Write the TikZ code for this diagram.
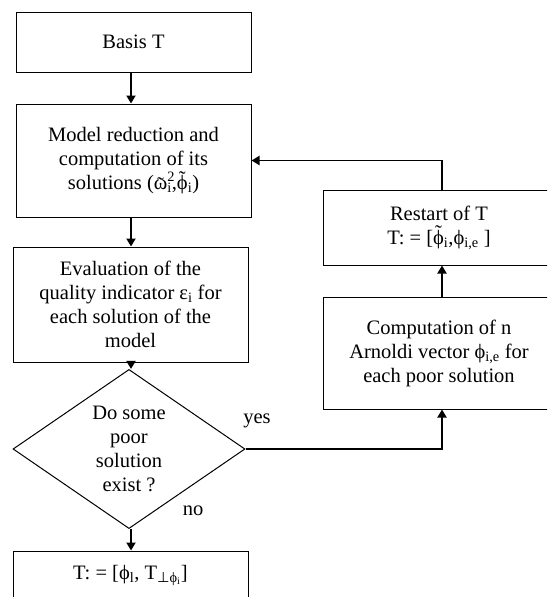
\documentclass[tikz,border=0pt]{standalone}
\usepackage{fontspec}
\setmainfont{Liberation Serif}
\newfontfamily\djv{DejaVu Sans}
\usetikzlibrary{arrows.meta,shapes.geometric}
\newcommand{\supsubx}[2]{\makebox[0pt][l]{\textsuperscript{#1}}\textsubscript{#2}}
\newcommand{\tld}[2][0pt]{{\ooalign{#2\cr\hidewidth\raisebox{#1}{˜}\hidewidth\cr}}}
\tikzset{
  box/.style={draw=black, line width=1pt, rectangle, align=center, inner sep=2pt,
    font=\fontsize{20.5}{24}\selectfont},
  dia/.style={draw=black, line width=1pt, diamond, align=center, inner sep=0pt,
    font=\fontsize{20.5}{24}\selectfont},
  flow/.style={line width=1.8pt, -{Triangle[length=8pt,width=9pt]}},
  lbl/.style={font=\fontsize{20.5}{24}\selectfont, inner sep=0pt},
}
\begin{document}
\begin{tikzpicture}[x=1pt,y=-1pt]
\useasboundingbox (0,0) rectangle (547,597);
\clip (0,0) rectangle (547,597);
\node[box, minimum width=235pt, minimum height=60pt] (basis) at (133.5,42) {Basis T};
\node[box, minimum width=235pt, minimum height=113pt] (model) at (133.5,160.5)
  {Model reduction and\\computation of its\\solutions (\tld[-0.2ex]{ω}\supsubx{2}{i},\tld[0.45ex]{ϕ}\textsubscript{i})};
\node[box, minimum width=235pt, minimum height=115pt] (eval) at (130.5,304.5)
  {Evaluation of the\\quality indicator ε\textsubscript{i} for\\each solution of the\\model};
\node[dia, minimum width=232pt, minimum height=130pt] (dec) at (129,449)
  {Do some\\poor\\solution\\exist ?};
\node[box, minimum width=235pt, minimum height=49pt] (final) at (130.5,575.5)
  {T: = [ϕ\textsubscript{l}, T\textsubscript{{\djv ⊥}ϕ\textsubscript{i}}]};
\node[box, minimum width=232pt, minimum height=75pt] (restart) at (439,227.5)
  {Restart of T\\T: = [\tld[0.45ex]{ϕ}\textsubscript{i},ϕ\textsubscript{i,e} ]};
\node[box, minimum width=232pt, minimum height=112pt] (comp) at (439,353)
  {Computation of n\\Arnoldi vector ϕ\textsubscript{i,e} for\\each poor solution};
\coordinate (colx) at (131,0);
\coordinate (colr) at (442,0);
\node[lbl] (yes) at (257,421) {yes};
\node[lbl] (no) at (193,511) {no};
\draw[flow] (basis.south -| colx) -- (model.north -| colx);
\draw[flow] (model.south -| colx) -- (eval.north -| colx);
\draw[flow] (eval.south -| colx) -- (dec.north -| colx);
\draw[flow] (dec.south -| colx) -- (final.north -| colx);
\draw[flow] (dec.east) -| (comp.south -| colr);
\draw[flow] (comp.north -| colr) -- (restart.south -| colr);
\draw[flow] (restart.north -| colr) |- (model.east);
\end{tikzpicture}
\end{document}
